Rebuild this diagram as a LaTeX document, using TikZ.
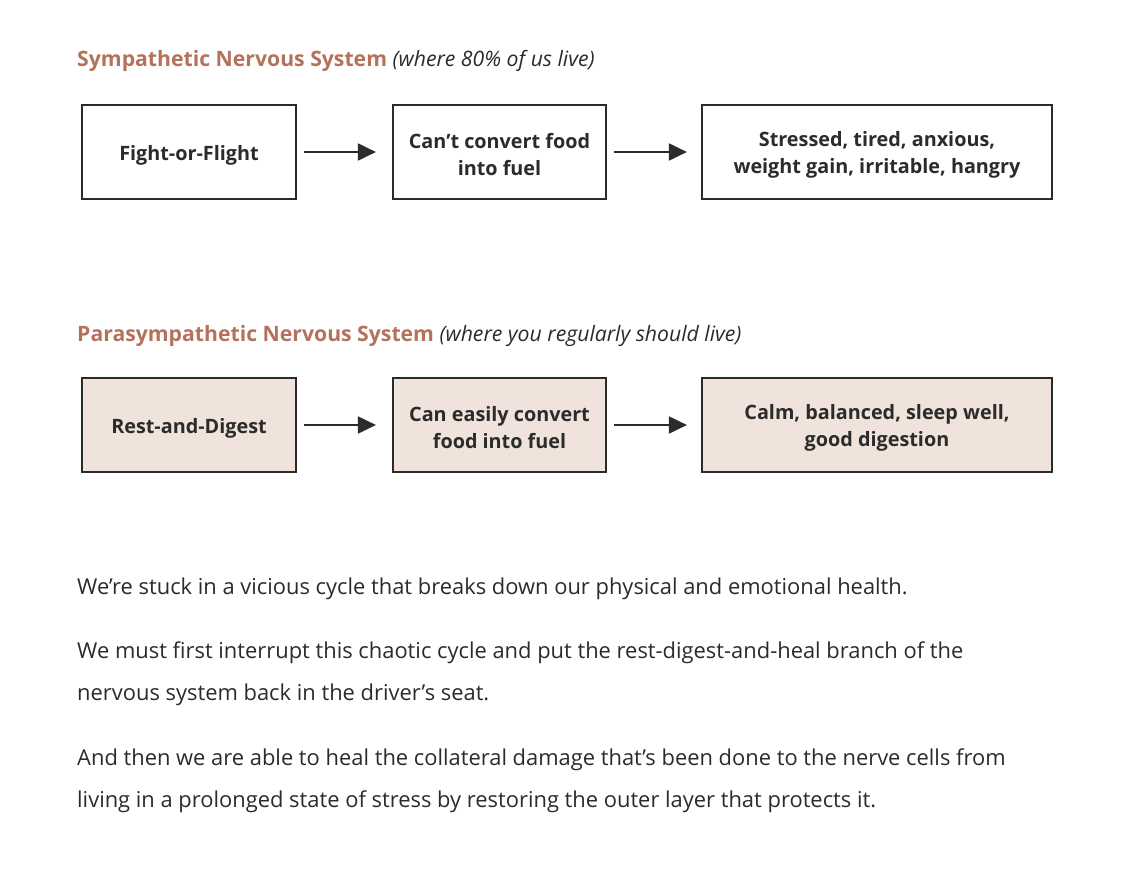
\documentclass[tikz,border=0pt]{standalone}
\usepackage{fontspec}
\setmainfont{Open Sans}
\usetikzlibrary{arrows.meta}
\definecolor{hdr}{HTML}{B5725A}
\definecolor{ink}{HTML}{2B2B2B}
\definecolor{pinkfill}{HTML}{F0E3DB}
\tikzset{
  box/.style={draw=ink, line width=2.2pt, minimum height=94pt, inner sep=0pt},
  wbox/.style={box, fill=white},
  pbox/.style={box, fill=pinkfill},
  btext/.style={align=center, text=ink, inner sep=0pt, yshift=-3pt,
    font=\fontsize{19.8}{27}\selectfont\bfseries},
  conn/.style={draw=ink, line width=2pt, -{Triangle[length=18pt,width=17pt]}},
  head/.style={anchor=base west, inner sep=0pt, font=\fontsize{21.2}{25}\selectfont},
  para/.style={anchor=base west, inner sep=0pt, text=ink, font=\fontsize{21.9}{26}\selectfont}
}
\begin{document}
\begin{tikzpicture}[x=1pt,y=-1pt]
\useasboundingbox (0,0) rectangle (1129,880);
\node[head] (h1) at (77,66.5) {\textcolor{hdr}{\bfseries Sympathetic Nervous System} \textcolor{ink}{\itshape(where 80\% of us live)}};
\node[wbox, minimum width=214pt] (a1) at (189,152) {};
\node[wbox, minimum width=213pt] (a2) at (499.5,152) {};
\node[wbox, minimum width=350pt] (a3) at (877,152) {};
\node[btext] (ta1) at (a1.center) {Fight-or-Flight};
\node[btext] (ta2) at (a2.center) {Can’t convert food\\into fuel};
\node[btext] (ta3) at (a3.center) {Stressed, tired, anxious,\\weight gain, irritable, hangry};
\draw[conn] ([xshift=7pt]a1.east) -- ([xshift=-16pt]a2.west);
\draw[conn] ([xshift=7pt]a2.east) -- ([xshift=-14pt]a3.west);

\node[head] (h2) at (77,341.5) {\textcolor{hdr}{\bfseries Parasympathetic Nervous System} \textcolor{ink}{\itshape(where you regularly should live)}};
\node[pbox, minimum width=214pt] (b1) at (189,425) {};
\node[pbox, minimum width=213pt] (b2) at (499.5,425) {};
\node[pbox, minimum width=350pt] (b3) at (877,425) {};
\node[btext] (tb1) at (b1.center) {Rest-and-Digest};
\node[btext] (tb2) at (b2.center) {Can easily convert\\food into fuel};
\node[btext] (tb3) at (b3.center) {Calm, balanced, sleep well,\\good digestion};
\draw[conn] ([xshift=7pt]b1.east) -- ([xshift=-16pt]b2.west);
\draw[conn] ([xshift=7pt]b2.east) -- ([xshift=-14pt]b3.west);

\node[para] (p1) at (77,594) {We’re stuck in a vicious cycle that breaks down our physical and emotional health.};
\node[para] (p2) at (77,658) {We must first interrupt this chaotic cycle and put the rest-digest-and-heal branch of the};
\node[para] (p3) at (77,700) {nervous system back in the driver’s seat.};
\node[para] (p4) at (77,765) {And then we are able to heal the collateral damage that’s been done to the nerve cells from};
\node[para] (p5) at (77,807) {living in a prolonged state of stress by restoring the outer layer that protects it.};
\end{tikzpicture}
\end{document}
